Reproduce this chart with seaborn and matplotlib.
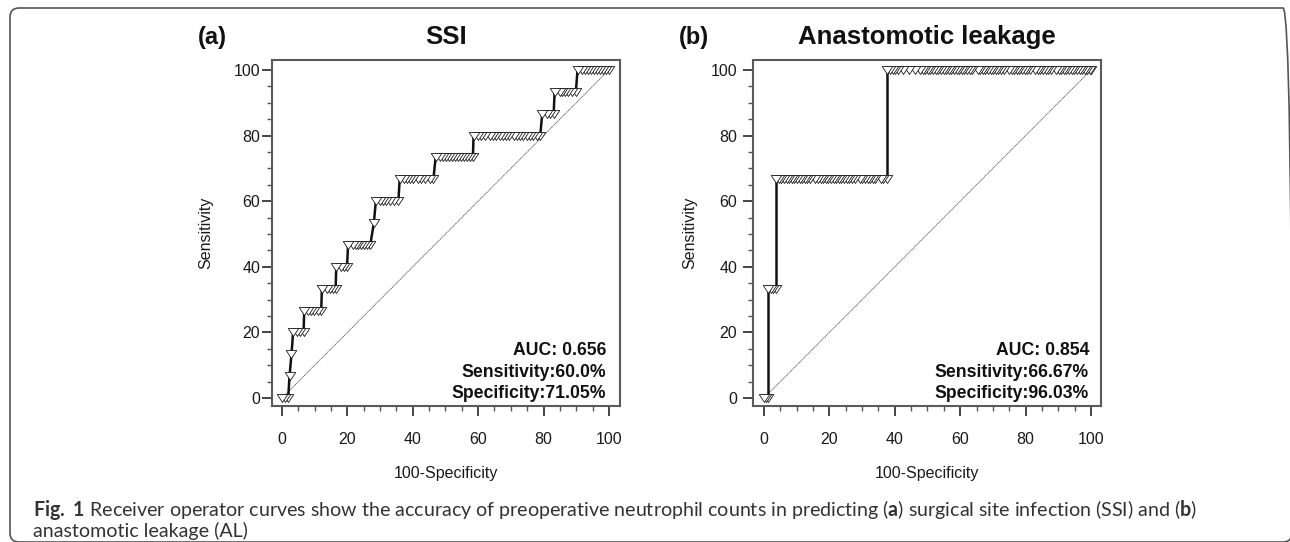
import numpy as np
import pandas as pd
import matplotlib
matplotlib.use("Agg")
import matplotlib.pyplot as plt
import seaborn as sns
from matplotlib.ticker import MultipleLocator
from matplotlib.patches import FancyBboxPatch
from matplotlib.markers import MarkerStyle
from matplotlib.path import Path

# ---------------- data ----------------
ssi_tpr_levels = [0, 6.67, 13.33, 20, 26.67, 33.33, 40, 46.67, 53.33, 60,
                  66.67, 73.33, 80, 86.67, 93.33, 100]
ssi_fpr_points = [
    [0.0, 1.0, 1.9],
    [2.3],
    [2.9],
    [3.4, 4.6, 5.6, 6.6],
    [6.8, 8.1, 9.0, 9.9, 10.9, 12.0],
    [12.2, 13.7, 14.6, 15.6, 16.4],
    [16.6, 17.9, 18.9, 19.9],
    [20.2, 21.6, 22.5, 23.4, 24.3, 25.2, 26.1, 27.0],
    [28.1],
    [28.7, 30.1, 31.0, 31.9, 33.0, 34.3, 35.6],
    [36.0, 37.4, 38.3, 39.2, 40.1, 41.5, 42.4, 43.8, 45.2, 46.3],
    [47.0, 48.4, 49.3, 50.2, 51.1, 52.0, 52.9, 53.8, 54.7, 55.6, 56.5, 57.4, 58.4],
    [58.6, 60.0, 60.9, 62.2, 63.6, 64.5, 65.4, 66.8, 67.7, 68.6, 69.5, 70.9,
     71.8, 72.7, 73.6, 75.0, 75.9, 76.8, 78.1, 79.0],
    [79.6, 81.0, 81.9, 83.1],
    [83.4, 84.9, 85.8, 86.7, 87.6, 88.6, 89.9],
    [90.4, 91.8, 92.7, 93.6, 94.5, 95.4, 96.3, 97.2, 98.1, 99.0, 100.0],
]

al_tpr_levels = [0, 33.33, 66.67, 100]
al_fpr_points = [
    [0.0, 0.7, 1.3],
    [1.3, 2.1, 2.9, 3.7],
    [3.7, 4.5, 5.3, 6.1, 6.9, 7.7, 8.5, 9.3, 10.1, 10.9, 11.7, 12.5, 13.3, 14.1,
     15.7, 16.5, 17.3, 18.1, 18.9, 19.7, 20.5, 21.3, 22.1, 22.9, 23.7, 24.5,
     25.3, 26.1, 26.9, 27.7, 29.3, 30.1, 30.9, 31.7, 32.5, 33.3, 34.1, 35.7,
     36.5, 37.7],
    [37.7, 38.5, 39.3, 40.1, 40.9, 42.5, 44.3, 46.1, 47.7, 48.5, 49.3, 50.1,
     50.9, 51.7, 52.5, 53.3, 54.1, 54.9, 55.7, 56.5, 57.3, 58.1, 58.9, 59.7,
     60.5, 61.3, 62.1, 62.9, 63.7, 65.3, 66.1, 66.9, 67.7, 68.5, 69.3, 70.1,
     70.9, 71.7, 72.5, 73.3, 74.9, 75.7, 76.5, 77.3, 78.1, 78.9, 79.7, 80.5,
     81.3, 82.9, 83.7, 84.5, 85.3, 86.1, 86.9, 87.7, 89.3, 90.1, 90.9, 91.7,
     92.5, 93.3, 94.1, 94.9, 95.7, 96.5, 97.3, 98.1, 98.9, 99.6, 100.0],
]

panel_letters = ["(a)", "(b)"]
panel_titles = ["SSI", "Anastomotic leakage"]
stat_auc = ["AUC: 0.656", "AUC: 0.854"]
stat_sens = ["Sensitivity:60.0%", "Sensitivity:66.67%"]
stat_spec = ["Specificity:71.05%", "Specificity:96.03%"]
major_ticks = [0, 20, 40, 60, 80, 100]
diag_ends = [0, 100]
x_label = "100-Specificity"
y_label = "Sensitivity"
caption_line1 = (r"$\mathbf{Fig.}$ $\mathbf{1}$ Receiver operator curves show the accuracy of "
                 r"preoperative neutrophil counts in predicting ($\mathbf{a}$) surgical "
                 r"site infection (SSI) and ($\mathbf{b}$)")
caption_line2 = "anastomotic leakage (AL)"

# ---------------- style ----------------
sns.set_style("ticks")
plt.rcParams["font.family"] = ["Liberation Sans", "DejaVu Sans"]
plt.rcParams["mathtext.fontset"] = "custom"
plt.rcParams["mathtext.rm"] = "Lato"
plt.rcParams["mathtext.bf"] = "Lato:bold"

W, H = 1290, 542
fig = plt.figure(figsize=(W / 100, H / 100), dpi=100)
fig.patch.set_facecolor("white")

tri = MarkerStyle(Path([(-1, 0.76), (1, 0.76), (0, -0.76), (-1, 0.76)], closed=True))


def build(levels, fprs):
    pts = [(x, y) for y, xs in zip(levels, fprs) for x in xs]
    df = pd.DataFrame(pts, columns=["fpr", "tpr"])
    segs = []
    for i in range(1, len(levels)):
        segs.append({"seg": i, "fpr": fprs[i - 1][-1], "tpr": levels[i - 1]})
        segs.append({"seg": i, "fpr": fprs[i][0], "tpr": levels[i]})
    return df, pd.DataFrame(segs)


panels = [(ssi_tpr_levels, ssi_fpr_points), (al_tpr_levels, al_fpr_points)]
ax_left_px = [272, 753]
ax_top_px, ax_bot_px, ax_w_px = 60, 406, 348
xlims = [(-3.06, 103.4), (-3.36, 103.06)]
ylim = (-2.44, 103.05)
ytick_pad = [1.0, 4.0]
ylabel_x = [-0.170, -0.160]
stat_x = [99.1, 99.4]
letter_x_px = [198, 679]

diag_df = pd.DataFrame({"fpr": diag_ends, "tpr": diag_ends})

for i, (levels, fprs) in enumerate(panels):
    ax = fig.add_axes([ax_left_px[i] / W, 1 - ax_bot_px / H, ax_w_px / W,
                       (ax_bot_px - ax_top_px) / H])
    df, segdf = build(levels, fprs)

    sns.lineplot(data=diag_df, x="fpr", y="tpr", ax=ax, color="#555555",
                 lw=0.6, linestyle=(0, (1.5, 0.7)), zorder=1)
    sns.lineplot(data=segdf, x="fpr", y="tpr", units="seg", estimator=None,
                 sort=False, ax=ax, color="#111111", lw=1.8, zorder=2)
    dfs = df.sort_values(["fpr", "tpr"], ascending=False)
    sns.scatterplot(data=dfs, x="fpr", y="tpr", ax=ax, marker=tri, s=57,
                    color="white", edgecolor="#1a1a1a", linewidth=0.6,
                    zorder=3, legend=False)

    ax.set_xlim(*xlims[i])
    ax.set_ylim(*ylim)
    ax.set_xticks(major_ticks)
    ax.set_yticks(major_ticks)
    ax.xaxis.set_minor_locator(MultipleLocator(5))
    ax.yaxis.set_minor_locator(MultipleLocator(5))
    ax.tick_params(which="major", direction="out", length=7.5, width=1.4,
                   color="#444444", labelsize=11.5, labelcolor="#1a1a1a")
    ax.tick_params(which="minor", direction="out", length=3.6, width=1.0,
                   color="#555555")
    ax.tick_params(axis="x", which="major", pad=11)
    ax.tick_params(axis="y", which="major", pad=ytick_pad[i])
    for sp in ax.spines.values():
        sp.set_visible(True)
        sp.set_color("#5a5a5a")
        sp.set_linewidth(1.5)

    ax.set_xlabel(x_label, fontsize=11.5, color="#1a1a1a")
    ax.set_ylabel(y_label, fontsize=11.5, color="#1a1a1a")
    ax.xaxis.set_label_coords(0.5, -0.173)
    ax.yaxis.set_label_coords(ylabel_x[i], 0.5)

    for txt, yy in zip([stat_auc[i], stat_sens[i], stat_spec[i]], [13.1, 6.55, 0.0]):
        ax.text(stat_x[i], yy, txt, ha="right", va="baseline", fontsize=12.7,
                fontweight="bold", color="#111111", zorder=5)

    cx = (ax_left_px[i] + ax_w_px / 2) / W
    fig.text(cx, 1 - 44 / H, panel_titles[i], ha="center", va="baseline",
             fontsize=18.5, fontweight="bold", color="#111111")
    fig.text(letter_x_px[i] / W, 1 - 44 / H, panel_letters[i], ha="left",
             va="baseline", fontsize=17, fontweight="bold", color="#111111")

# caption
cap1 = fig.text(33 / W, 1 - 516 / H, caption_line1, fontfamily="Lato",
                fontsize=12, color="#333333", va="baseline", ha="left")
renderer = fig.canvas.get_renderer()
wpx = cap1.get_window_extent(renderer).width
fs = 12 * (1163 / wpx)
cap1.set_fontsize(fs)
fig.text(33 / W, 1 - 537 / H, caption_line2, fontfamily="Lato",
         fontsize=fs, color="#333333", va="baseline", ha="left")

# rounded border (runs off the right and bottom edges like the reference)
border = FancyBboxPatch((10, 0), 1282, 534,
                        boxstyle="round,pad=0,rounding_size=9",
                        transform=None, fill=False, edgecolor="#555555",
                        linewidth=1.2)
fig.patches.append(border)

fig.savefig("out.png", dpi=100, facecolor="white")
